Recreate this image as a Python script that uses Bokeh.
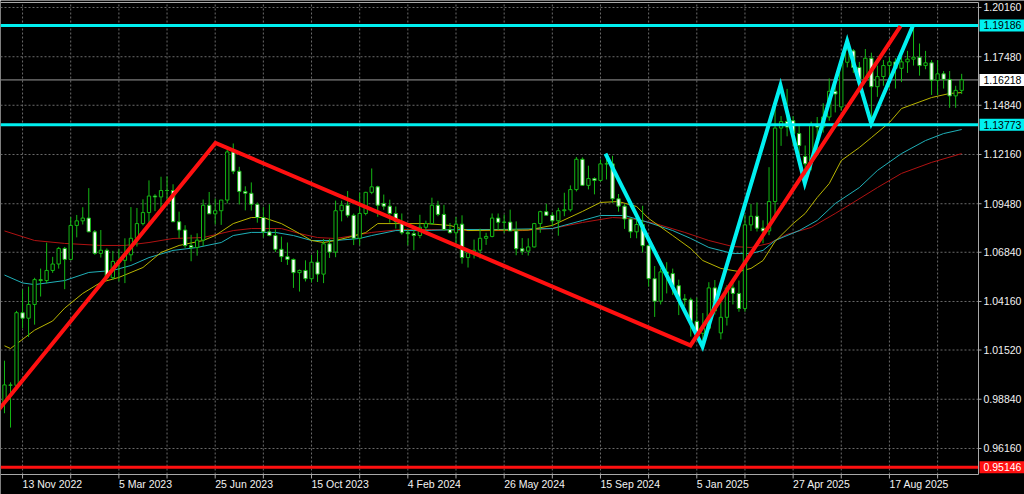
import pandas as pd
from bokeh.plotting import figure
from bokeh.models import ColumnDataSource, Range1d
from bokeh.core.properties import value
from bokeh.embed import file_html
from bokeh.resources import INLINE

# EUR/USD weekly candles, first bar = week starting 23 Oct 2022
first_week = pd.Timestamp("2022-10-23")

opens = [
    0.9870, 0.9962, 0.9960, 1.0355, 1.0325, 1.0400, 1.0535, 1.0530, 1.0585, 1.0620,
    1.0705, 1.0645, 1.0830, 1.0855, 1.0870, 1.0795, 1.0678, 1.0695, 1.0546, 1.0634,
    1.0640, 1.0670, 1.0760, 1.0840, 1.0900, 1.0990, 1.0985, 1.1020, 1.1020, 1.0850,
    1.0805, 1.0720, 1.0710, 1.0750, 1.0940, 1.0893, 1.0910, 1.0968, 1.1230, 1.1125,
    1.1015, 1.1005, 1.0945, 1.0873, 1.0795, 1.0775, 1.0700, 1.0660, 1.0645, 1.0573,
    1.0585, 1.0540, 1.0630, 1.0565, 1.0730, 1.0685, 1.0910, 1.0940, 1.0885, 1.0760,
    1.0895, 1.1010, 1.1040, 1.0950, 1.0935, 1.0895, 1.0850, 1.0790, 1.0785, 1.0775,
    1.0820, 1.0840, 1.0940, 1.0890, 1.0808, 1.0790, 1.0837, 1.0655, 1.0680, 1.0695,
    1.0760, 1.0770, 1.0870, 1.0847, 1.0848, 1.0800, 1.0703, 1.0690, 1.0713, 1.0840,
    1.0905, 1.0885, 1.0855, 1.0910, 1.0915, 1.1025, 1.1190, 1.1048, 1.1085, 1.1075,
    1.1165, 1.1165, 1.0975, 1.0935, 1.0865, 1.0795, 1.0835, 1.0720, 1.0540, 1.0418,
    1.0577, 1.0568, 1.0502, 1.0430, 1.0425, 1.0308, 1.0243, 1.0270, 1.0490, 1.0245,
    1.0330, 1.0490, 1.0460, 1.0378, 1.0833, 1.0880, 1.0815, 1.0800, 1.0960, 1.1360,
    1.1395, 1.1400, 1.1330, 1.1205, 1.1180, 1.1380, 1.1365, 1.1420, 1.1560, 1.1475,
    1.1718, 1.1780, 1.1690, 1.1625, 1.1740, 1.1585, 1.1640, 1.1700, 1.1720, 1.1685,
    1.1720, 1.1735, 1.1745, 1.1700, 1.1715, 1.1620, 1.1655, 1.1625, 1.1535, 1.1565,
]
highs = [
    1.0094, 0.9976, 1.0365, 1.0481, 1.0497, 1.0545, 1.0595, 1.0736, 1.0659, 1.0713,
    1.0713, 1.0875, 1.0887, 1.0929, 1.1033, 1.0805, 1.0805, 1.0705, 1.0692, 1.0700,
    1.0760, 1.0930, 1.0925, 1.0972, 1.1075, 1.1000, 1.1095, 1.1097, 1.1054, 1.0905,
    1.0831, 1.0779, 1.0787, 1.0971, 1.1012, 1.0976, 1.0968, 1.1245, 1.1276, 1.1149,
    1.1043, 1.1064, 1.0955, 1.0930, 1.0945, 1.0809, 1.0769, 1.0737, 1.0650, 1.0590,
    1.0640, 1.0670, 1.0695, 1.0756, 1.0757, 1.0965, 1.0965, 1.1017, 1.0895, 1.1009,
    1.1013, 1.1140, 1.1046, 1.0998, 1.0970, 1.0933, 1.0895, 1.0810, 1.0805, 1.0888,
    1.0856, 1.0981, 1.0964, 1.0942, 1.0843, 1.0876, 1.0885, 1.0690, 1.0753, 1.0812,
    1.0790, 1.0895, 1.0895, 1.0889, 1.0916, 1.0852, 1.0761, 1.0760, 1.0844, 1.0910,
    1.0948, 1.0902, 1.0926, 1.1008, 1.1048, 1.1202, 1.1200, 1.1155, 1.1092, 1.1189,
    1.1214, 1.1209, 1.1001, 1.0946, 1.0870, 1.0905, 1.0937, 1.0725, 1.0609, 1.0597,
    1.0630, 1.0595, 1.0535, 1.0456, 1.0437, 1.0437, 1.0353, 1.0521, 1.0533, 1.0442,
    1.0505, 1.0528, 1.0530, 1.0888, 1.0947, 1.0955, 1.0858, 1.1147, 1.1473, 1.1425,
    1.1573, 1.1425, 1.1380, 1.1265, 1.1395, 1.1420, 1.1495, 1.1630, 1.1615, 1.1745,
    1.1830, 1.1790, 1.1720, 1.1790, 1.1770, 1.1700, 1.1730, 1.1745, 1.1740, 1.1780,
    1.1780, 1.1920, 1.1820, 1.1780, 1.1730, 1.1730, 1.1670, 1.1670, 1.1590, 1.1655,
]
lows = [
    0.9808, 0.9730, 0.9935, 1.0270, 1.0223, 1.0290, 1.0443, 1.0515, 1.0572, 1.0595,
    1.0483, 1.0640, 1.0765, 1.0835, 1.0794, 1.0670, 1.0655, 1.0533, 1.0533, 1.0525,
    1.0516, 1.0635, 1.0715, 1.0830, 1.0830, 1.0908, 1.0910, 1.0943, 1.0849, 1.0760,
    1.0708, 1.0635, 1.0665, 1.0718, 1.0898, 1.0835, 1.0833, 1.0950, 1.1109, 1.0944,
    1.0912, 1.0911, 1.0845, 1.0765, 1.0771, 1.0685, 1.0631, 1.0615, 1.0490, 1.0470,
    1.0525, 1.0520, 1.0522, 1.0516, 1.0653, 1.0657, 1.0852, 1.0873, 1.0723, 1.0723,
    1.0885, 1.1000, 1.0877, 1.0915, 1.0845, 1.0813, 1.0780, 1.0722, 1.0695, 1.0760,
    1.0796, 1.0835, 1.0880, 1.0802, 1.0787, 1.0724, 1.0622, 1.0601, 1.0650, 1.0650,
    1.0724, 1.0765, 1.0805, 1.0789, 1.0800, 1.0668, 1.0670, 1.0666, 1.0710, 1.0790,
    1.0882, 1.0826, 1.0774, 1.0880, 1.0905, 1.1015, 1.1045, 1.1026, 1.0999, 1.1068,
    1.1080, 1.0953, 1.0905, 1.0811, 1.0761, 1.0760, 1.0683, 1.0497, 1.0332, 1.0400,
    1.0460, 1.0452, 1.0342, 1.0390, 1.0225, 1.0214, 1.0177, 1.0265, 1.0345, 1.0210,
    1.0285, 1.0400, 1.0360, 1.0360, 1.0800, 1.0797, 1.0733, 1.0777, 1.0880, 1.1263,
    1.1315, 1.1265, 1.1195, 1.1065, 1.1130, 1.1210, 1.1335, 1.1400, 1.1445, 1.1455,
    1.1690, 1.1660, 1.1555, 1.1620, 1.1390, 1.1530, 1.1590, 1.1580, 1.1575, 1.1610,
    1.1660, 1.1700, 1.1645, 1.1680, 1.1540, 1.1540, 1.1575, 1.1470, 1.1470, 1.1545,
]
closes = [
    0.9962, 0.9960, 1.0355, 1.0325, 1.0400, 1.0535, 1.0530, 1.0585, 1.0620, 1.0705,
    1.0645, 1.0830, 1.0855, 1.0870, 1.0795, 1.0678, 1.0695, 1.0546, 1.0634, 1.0640,
    1.0670, 1.0760, 1.0840, 1.0900, 1.0990, 1.0985, 1.1020, 1.1020, 1.0850, 1.0805,
    1.0720, 1.0710, 1.0750, 1.0940, 1.0893, 1.0910, 1.0968, 1.1230, 1.1125, 1.1015,
    1.1005, 1.0945, 1.0873, 1.0795, 1.0775, 1.0700, 1.0660, 1.0645, 1.0573, 1.0585,
    1.0540, 1.0630, 1.0565, 1.0730, 1.0685, 1.0910, 1.0940, 1.0885, 1.0760, 1.0895,
    1.1010, 1.1040, 1.0940, 1.0935, 1.0895, 1.0850, 1.0790, 1.0785, 1.0775, 1.0820,
    1.0840, 1.0940, 1.0890, 1.0808, 1.0790, 1.0837, 1.0655, 1.0680, 1.0695, 1.0760,
    1.0770, 1.0870, 1.0847, 1.0848, 1.0800, 1.0703, 1.0690, 1.0713, 1.0840, 1.0905,
    1.0885, 1.0855, 1.0910, 1.0915, 1.1025, 1.1190, 1.1048, 1.1085, 1.1075, 1.1165,
    1.1165, 1.0975, 1.0935, 1.0865, 1.0795, 1.0835, 1.0720, 1.0540, 1.0418, 1.0577,
    1.0568, 1.0502, 1.0430, 1.0425, 1.0308, 1.0243, 1.0270, 1.0490, 1.0365, 1.0330,
    1.0490, 1.0460, 1.0378, 1.0833, 1.0880, 1.0815, 1.0800, 1.0960, 1.1360, 1.1395,
    1.1365, 1.1330, 1.1265, 1.1165, 1.1380, 1.1365, 1.1420, 1.1560, 1.1545, 1.1718,
    1.1785, 1.1690, 1.1625, 1.1740, 1.1585, 1.1640, 1.1700, 1.1720, 1.1685, 1.1720,
    1.1735, 1.1745, 1.1700, 1.1715, 1.1620, 1.1655, 1.1625, 1.1535, 1.1565, 1.1622,
]

# Moving averages (week offset, price)
ma_short_weeks = [0, 1, 5, 8, 10, 13, 16, 19, 23, 26, 29, 33, 35, 38, 41, 43, 46, 49, 51, 53,
                  55, 57, 60, 62, 66, 70, 74, 77, 82, 87, 91, 96, 99, 102, 105, 107, 111, 114,
                  116, 119, 122, 124, 126, 128, 131, 133, 135, 137, 139, 142, 144, 147, 149,
                  154, 157, 159]
ma_short_values = [1.0175, 1.0160, 1.0260, 1.0310, 1.0380, 1.0460, 1.0520, 1.0547, 1.0601,
                   1.0683, 1.0721, 1.0748, 1.0775, 1.0840, 1.0873, 1.0873, 1.0840, 1.0786,
                   1.0748, 1.0737, 1.0748, 1.0764, 1.0791, 1.0840, 1.0840, 1.0840, 1.0830,
                   1.0802, 1.0805, 1.0805, 1.0830, 1.0906, 1.0955, 1.0960, 1.0933, 1.0868,
                   1.0775, 1.0704, 1.0639, 1.0596, 1.0579, 1.0596, 1.0639, 1.0743, 1.0840,
                   1.0895, 1.0982, 1.1058, 1.1183, 1.1254, 1.1308, 1.1390, 1.1466, 1.1526,
                   1.1548, 1.1553]
ma_mid_weeks = [0, 3, 5, 10, 14, 18, 21, 24, 28, 32, 36, 38, 41, 45, 48, 51, 55, 59, 61, 65,
                69, 76, 82, 91, 96, 99, 103, 107, 111, 114, 117, 121, 124, 126, 128, 132, 135,
                138, 142, 145, 149, 153, 156, 159]
ma_mid_values = [1.0560, 1.0517, 1.0508, 1.0530, 1.0574, 1.0585, 1.0612, 1.0655, 1.0694,
                 1.0710, 1.0737, 1.0775, 1.0792, 1.0792, 1.0775, 1.0748, 1.0748, 1.0759,
                 1.0775, 1.0802, 1.0802, 1.0808, 1.0808, 1.0813, 1.0857, 1.0884, 1.0884,
                 1.0846, 1.0802, 1.0759, 1.0710, 1.0677, 1.0677, 1.0694, 1.0748, 1.0802,
                 1.0857, 1.0949, 1.1036, 1.1129, 1.1221, 1.1292, 1.1330, 1.1352]
ma_long_weeks = [0, 5, 10, 16, 20, 24, 28, 33, 38, 41, 46, 49, 52, 55, 58, 61, 66, 71, 77, 86,
                 91, 96, 101, 104, 108, 113, 117, 121, 124, 127, 130, 134, 138, 141, 145, 149,
                 154, 159]
ma_long_values = [1.0800, 1.0748, 1.0732, 1.0721, 1.0721, 1.0737, 1.0759, 1.0764, 1.0802,
                  1.0813, 1.0813, 1.0786, 1.0764, 1.0759, 1.0775, 1.0792, 1.0808, 1.0808,
                  1.0802, 1.0802, 1.0813, 1.0846, 1.0873, 1.0868, 1.0841, 1.0792, 1.0748,
                  1.0715, 1.0710, 1.0732, 1.0781, 1.0819, 1.0895, 1.0955, 1.1036, 1.1113,
                  1.1173, 1.1221]

# Hand-drawn swing lines (week offset, price)
red_swing_weeks = [-2.0, 35.05, 113.95, 148.84]
red_swing_prices = [0.9785, 1.1279, 1.0177, 1.1915]
cyan_swing_weeks = [99.83, 115.95, 128.9, 132.94, 139.98, 143.97, 150.88]
cyan_swing_prices = [1.1221, 1.0171, 1.1592, 1.1060, 1.1833, 1.1385, 1.1915]

# Horizontal levels
resistance = 1.19186
support = 1.13773
bottom_level = 0.95146
last_price = 1.16218

price_ticks = [1.20160, 1.17480, 1.14840, 1.12160, 1.09480,
               1.06840, 1.04160, 1.01520, 0.98840, 0.96160]
date_ticks = ["2022-11-13", "2023-03-05", "2023-06-25", "2023-10-15", "2024-02-04",
              "2024-05-26", "2024-09-15", "2025-01-05", "2025-04-27", "2025-08-17"]

# ---- layout: one frame covering the whole canvas, chart window inside it
W, H = 1024, 494
PX_PER_WEEK = 6.02
LEFT_WEEK = -0.664            # week shown at the left edge
TOP_PRICE = 1.205409          # price at the top edge
PRICE_PER_PX = 0.000544218
CHART_RIGHT_PX, CHART_TOP_PX, CHART_BOTTOM_PX = 978, 2, 474


def wk(xpx):
    return LEFT_WEEK + xpx / PX_PER_WEEK


def pr(ypx):
    return TOP_PRICE - ypx * PRICE_PER_PX


x_left, x_right = wk(0), wk(CHART_RIGHT_PX)
y_top, y_bottom = pr(CHART_TOP_PX), pr(CHART_BOTTOM_PX)

CANDLE = "#14b814"
TEXT = "#f2f2f2"
AXIS = "#a8a8a8"
GRID = "#6a6a6a"
CYAN = "#00f0f0"
RED = "#ff1010"
FONT = "Liberation Sans"
FSIZE = "10.5px"

weeks = list(range(len(closes)))
label_weeks = [(pd.Timestamp(d) - first_week).days / 7 for d in date_ticks]
label_texts = [pd.Timestamp(d).strftime("%-d %b %Y") for d in date_ticks]
grid_weeks = [label_weeks[0] + 8 * k for k in range(0, 20)]

src = ColumnDataSource(dict(
    week=weeks, open=opens, high=highs, low=lows, close=closes,
    top=[max(o, c) for o, c in zip(opens, closes)],
    bottom=[min(o, c) for o, c in zip(opens, closes)],
    fill=["#000000" if c >= o else "#ffffff" for o, c in zip(opens, closes)],
))

p = figure(width=W, height=H,
           x_range=Range1d(wk(0), wk(W)), y_range=Range1d(pr(H), pr(0)),
           output_backend="svg", toolbar_location=None,
           x_axis_location=None, y_axis_location=None,
           min_border=0, background_fill_color="#000000", border_fill_color="#000000",
           outline_line_color=None)
p.xgrid.visible = False
p.ygrid.visible = False

# dotted grid inside the chart window
p.segment(x0=grid_weeks, y0=[y_bottom] * len(grid_weeks), x1=grid_weeks, y1=[y_top] * len(grid_weeks),
          line_color=GRID, line_dash="2 2", line_width=1)
p.segment(x0=[x_left] * len(price_ticks), y0=price_ticks, x1=[x_right] * len(price_ticks), y1=price_ticks,
          line_color=GRID, line_dash="2 2", line_width=1)

# last price line
p.segment(x0=[x_left], y0=[last_price], x1=[x_right], y1=[last_price],
          line_color="#9a9a9a", line_width=1)

# moving averages
p.line(ma_long_weeks, ma_long_values, line_color="#b01212", line_width=1)
p.line(ma_mid_weeks, ma_mid_values, line_color="#1fb0b8", line_width=1)
p.line(ma_short_weeks, ma_short_values, line_color="#b8b400", line_width=1)

# candles
p.segment(x0="week", y0="low", x1="week", y1="high", source=src,
          line_color=CANDLE, line_width=1)
p.vbar(x="week", width=0.55, top="top", bottom="bottom", source=src,
       fill_color="fill", line_color=CANDLE, line_width=1)

# horizontal levels
lv = [resistance, support, bottom_level]
p.segment(x0=[x_left] * 3, y0=lv, x1=[x_right] * 3, y1=lv,
          line_color=[CYAN, CYAN, RED], line_width=3)

# swing lines
p.line(cyan_swing_weeks, cyan_swing_prices, line_color=CYAN, line_width=4, line_join="miter")
p.line(red_swing_weeks, red_swing_prices, line_color=RED, line_width=4, line_join="miter")

# chart frame: top edge, right price axis, bottom time axis
p.segment(x0=[x_left, x_right, x_left], y0=[y_top, y_bottom, y_bottom],
          x1=[x_right, x_right, x_right], y1=[y_top, y_top, y_bottom],
          line_color=AXIS, line_width=1)
tick_out_x = wk(CHART_RIGHT_PX + 3)
p.segment(x0=[x_right] * len(price_ticks), y0=price_ticks,
          x1=[tick_out_x] * len(price_ticks), y1=price_ticks, line_color=AXIS, line_width=1)
tick_out_y = pr(CHART_BOTTOM_PX + 4)
p.segment(x0=grid_weeks, y0=[y_bottom] * len(grid_weeks), x1=grid_weeks,
          y1=[tick_out_y] * len(grid_weeks), line_color=AXIS, line_width=1)

# price scale labels
p.text(x=[wk(983)] * len(price_ticks), y=price_ticks, text=[f"{t:.5f}" for t in price_ticks],
       text_color=TEXT, text_font=value(FONT), text_font_size=value(FSIZE),
       text_align="left", text_baseline="middle")

# date labels, left-aligned at their tick
p.text(x=label_weeks, y=[pr(477)] * len(label_weeks), text=label_texts,
       text_color=TEXT, text_font=value(FONT), text_font_size=value(FSIZE),
       text_align="left", text_baseline="top")

# price tags on the scale
tag_levels = [resistance, last_price, support, bottom_level]
tag_fill = [CYAN, "#ffffff", CYAN, RED]
tag_text = ["#000000", "#000000", "#000000", "#ffffff"]
half = 6 * PRICE_PER_PX
p.quad(left=[wk(979)] * 4, right=[wk(W)] * 4,
       top=[v + half for v in tag_levels], bottom=[v - half for v in tag_levels],
       fill_color=tag_fill, line_color=None)
p.text(x=[wk(983)] * 4, y=tag_levels, text=[f"{v:.5f}" for v in tag_levels],
       text_color=tag_text, text_font=value(FONT), text_font_size=value(FSIZE),
       text_align="left", text_baseline="middle")

open("out.html", "w").write(file_html(p, INLINE))
